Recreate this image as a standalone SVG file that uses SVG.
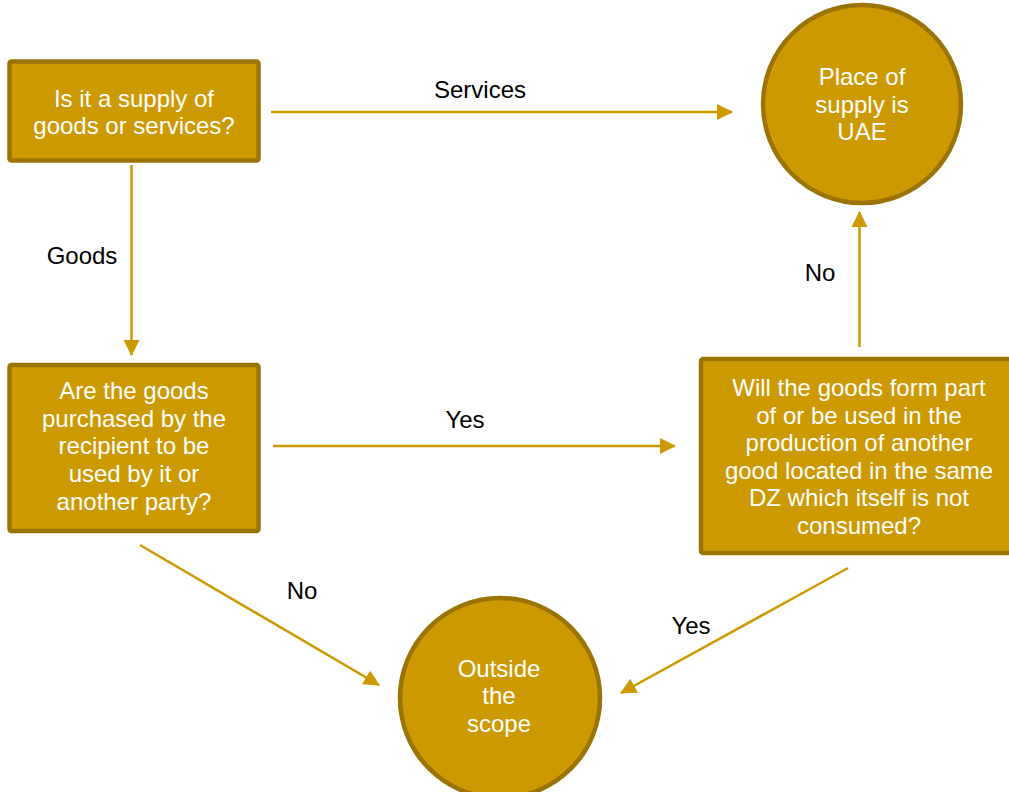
<svg xmlns="http://www.w3.org/2000/svg" width="1009" height="792" viewBox="0 0 1009 792">
<style>
.node{fill:#CC9900;stroke:#9A7300;stroke-width:4.5}
.nt{font-family:"Liberation Sans",Arial,sans-serif;font-size:24px;fill:#FFFFFF;text-anchor:middle}
.lbl{font-family:"Liberation Sans",Arial,sans-serif;font-size:24px;fill:#000000;text-anchor:middle}
.edge{stroke:#CC9900;stroke-width:2.5;fill:none;marker-end:url(#ah)}
</style>
<defs>
<marker id="ah" markerUnits="userSpaceOnUse" markerWidth="16" markerHeight="16" refX="15" refY="8" orient="auto">
<path d="M0,0 L16,8 L0,16 z" fill="#CC9900"/>
</marker>
</defs>
<rect width="1009" height="792" fill="#FFFFFF"/>
<g id="connectors">
<line class="edge" x1="271" y1="112" x2="732" y2="112"/>
<line class="edge" x1="131.5" y1="165" x2="131.5" y2="355"/>
<line class="edge" x1="273" y1="446" x2="675" y2="446"/>
<line class="edge" x1="140" y1="545" x2="379" y2="685"/>
<line class="edge" x1="848" y1="568" x2="621" y2="693"/>
<line class="edge" x1="859.5" y1="347" x2="859.5" y2="212"/>
<text class="lbl" x="480" y="98">Services</text>
<text class="lbl" x="82" y="264">Goods</text>
<text class="lbl" x="465" y="428">Yes</text>
<text class="lbl" x="302" y="599">No</text>
<text class="lbl" x="691" y="634">Yes</text>
<text class="lbl" x="820" y="281">No</text>
</g>
<g id="q1">
<rect class="node" x="9.5" y="61.5" width="249" height="99" rx="2"/>
<text class="nt" x="134" y="107">Is it a supply of</text>
<text class="nt" x="134" y="134">goods or services?</text>
</g>
<g id="q2">
<rect class="node" x="9.5" y="365" width="249" height="166" rx="2"/>
<text class="nt" x="134" y="399">Are the goods</text>
<text class="nt" x="134" y="427">purchased by the</text>
<text class="nt" x="134" y="454">recipient to be</text>
<text class="nt" x="134" y="482">used by it or</text>
<text class="nt" x="134" y="510">another party?</text>
</g>
<g id="q3">
<rect class="node" x="701" y="359" width="318" height="194" rx="2"/>
<text class="nt" x="859" y="396">Will the goods form part</text>
<text class="nt" x="859" y="423.5">of or be used in the</text>
<text class="nt" x="859" y="451">production of another</text>
<text class="nt" x="859" y="478.5">good located in the same</text>
<text class="nt" x="859" y="506">DZ which itself is not</text>
<text class="nt" x="859" y="533.5">consumed?</text>
</g>
<g id="uae">
<circle class="node" cx="862" cy="104" r="99"/>
<text class="nt" x="862" y="85">Place of</text>
<text class="nt" x="862" y="113">supply is</text>
<text class="nt" x="862" y="140">UAE</text>
</g>
<g id="outside">
<circle class="node" cx="500" cy="698" r="100"/>
<text class="nt" x="499" y="677">Outside</text>
<text class="nt" x="499" y="704">the</text>
<text class="nt" x="499" y="732">scope</text>
</g>
</svg>
